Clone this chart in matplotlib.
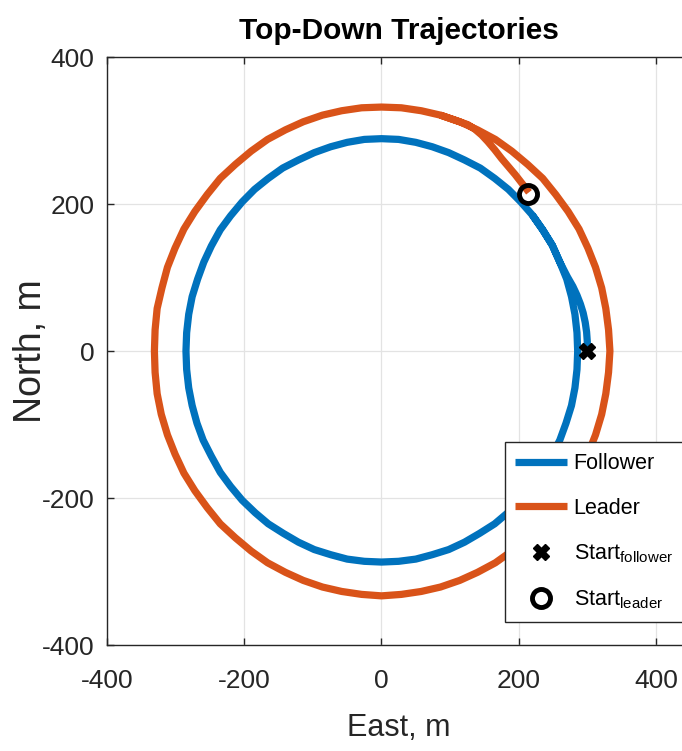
import matplotlib.pyplot as plt

# Trajectories, (east, north) in metres, counter-clockwise.
follower_path = [
    (300, 0), (300, 13), (299, 26), (297, 39), (294, 52), (290, 64), (285, 76),
    (279, 88), (271, 101), (260, 121), (249, 144), (235, 165), (220, 185),
    (203, 203), (185, 220), (165, 235), (144, 249), (121, 260), (98, 270),
    (74, 278), (50, 284), (25, 288), (0, 289), (-25, 288), (-50, 284), (-74, 278),
    (-98, 270), (-121, 260), (-144, 249), (-165, 235), (-185, 220), (-203, 203),
    (-220, 184), (-235, 165), (-248, 143), (-259, 121), (-268, 98), (-276, 74),
    (-281, 50), (-284, 25), (-285, 0), (-284, -25), (-281, -50), (-276, -74),
    (-269, -98), (-260, -121), (-248, -143), (-235, -165), (-220, -184),
    (-203, -203), (-184, -220), (-165, -235), (-143, -248), (-121, -260),
    (-98, -270), (-74, -277), (-50, -283), (-25, -286), (0, -287), (25, -286),
    (50, -283), (74, -277), (98, -270), (121, -260), (143, -248), (165, -235),
    (184, -220), (203, -203), (220, -184), (235, -165), (248, -143), (260, -121),
    (269, -98), (277, -74), (282, -50), (285, -25), (286, 0), (285, 25), (282, 50),
    (277, 74), (270, 98), (260, 121), (249, 144), (235, 165), (220, 185),
]
leader_path = [
    (215, 216), (205, 228), (195, 240), (185, 251), (175, 262), (165, 274),
    (155, 285), (146, 294), (136, 302), (126, 308), (114, 312), (86, 321),
    (58, 327), (29, 331), (0, 332), (-29, 331), (-58, 327), (-86, 321),
    (-114, 312), (-140, 301), (-166, 288), (-190, 272), (-213, 254), (-235, 235),
    (-254, 213), (-272, 190), (-288, 166), (-301, 140), (-312, 114), (-320, 86),
    (-327, 58), (-330, 29), (-331, 0), (-330, -29), (-327, -58), (-321, -86),
    (-312, -114), (-301, -140), (-288, -166), (-272, -190), (-254, -213),
    (-235, -235), (-213, -254), (-190, -272), (-166, -288), (-140, -301),
    (-114, -312), (-86, -321), (-58, -327), (-29, -331), (0, -333), (29, -331),
    (58, -327), (86, -321), (114, -312), (140, -301), (166, -288), (190, -272),
    (213, -254), (235, -235), (254, -213), (272, -190), (288, -166), (301, -140),
    (312, -114), (321, -86), (327, -58), (331, -29), (333, 0), (331, 29), (327, 58),
    (321, 86), (312, 114), (301, 140), (288, 166), (272, 190), (254, 213),
    (235, 235), (213, 254), (190, 272), (166, 288), (140, 301), (114, 312),
    (86, 321),
]

start_follower = (300, 0)
start_leader = (213, 214)

ticks = [-400, -200, 0, 200, 400]

BLUE = "#0072BD"
ORANGE = "#D95319"
INK = "#262626"

plt.rcParams["font.family"] = ["Liberation Sans", "DejaVu Sans"]
plt.rcParams["mathtext.fontset"] = "custom"
plt.rcParams["mathtext.rm"] = "Liberation Sans"
plt.rcParams["axes.unicode_minus"] = False

fig = plt.figure(figsize=(6.82, 7.51), dpi=100)
ax = fig.add_axes([0.157, 0.141, 0.855, 0.783])

fe, fn = zip(*follower_path)
le, ln = zip(*leader_path)
ax.plot(fe, fn, color=BLUE, lw=5.2, label="Follower",
        solid_joinstyle="round", solid_capstyle="butt", zorder=3)
ax.plot(le, ln, color=ORANGE, lw=5.2, label="Leader",
        solid_joinstyle="round", solid_capstyle="butt", zorder=3)
ax.plot(*start_follower, marker="X", color="black", ms=12, ls="none",
        label="Start$_{\\mathrm{follower}}$", zorder=4)
ax.plot(*start_leader, marker="o", mfc="none", mec="black", mew=3.5, ms=13,
        ls="none", label="Start$_{\\mathrm{leader}}$", zorder=4)

ax.set_xlim(-400, 450)
ax.set_ylim(-400, 400)
ax.set_xticks(ticks)
ax.set_yticks(ticks)
ax.grid(True, color="#e3e3e3", lw=0.9)
ax.set_axisbelow(True)
for side in ax.spines.values():
    side.set_color(INK)
    side.set_linewidth(1.0)
ax.tick_params(direction="in", length=5, width=1, colors=INK,
               labelsize=19, top=True, right=True)
ax.tick_params(axis="x", pad=17)
ax.tick_params(axis="y", pad=9)

ax.set_title("Top-Down Trajectories", fontsize=21.5, fontweight="bold", pad=13)
ax.set_xlabel("East, m", fontsize=22, color=INK)
ax.set_ylabel("North, m", fontsize=27, color=INK)
ax.xaxis.set_label_coords(0.5, -0.115)
ax.yaxis.set_label_coords(-0.1, 0.5)

leg = ax.legend(loc="upper left", bbox_to_anchor=(0.740, 0.411),
                bbox_transform=fig.transFigure, fontsize=15.5, frameon=True,
                fancybox=False, framealpha=1, edgecolor=INK,
                handlelength=2.4, handletextpad=0.3, labelspacing=1.1,
                borderpad=0.5, borderaxespad=0)
leg.get_frame().set_linewidth(1.0)

fig.savefig("out.png", dpi=100)
